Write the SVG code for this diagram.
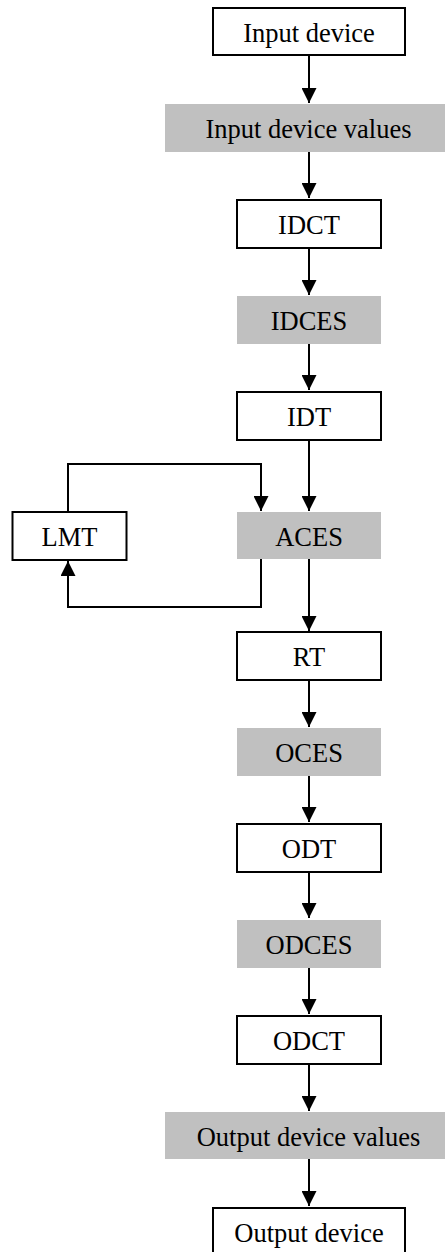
<svg xmlns="http://www.w3.org/2000/svg" width="445" height="1252" viewBox="0 0 445 1252">
<defs>
<marker id="ah" markerUnits="userSpaceOnUse" markerWidth="15" markerHeight="15" refX="15" refY="7.5" orient="auto"><path d="M0,0 L15,7.5 L0,15 z" fill="#000"/></marker>
<style>
.w{fill:#fff;stroke:#000;stroke-width:2}
.g{fill:#c0c0c0;stroke:none}
.t{font-family:"Liberation Serif","Times New Roman",serif;font-size:26.5px;fill:#000;text-anchor:middle}
.c{fill:none;stroke:#000;stroke-width:2;marker-end:url(#ah)}
</style>
</defs>
<rect width="445" height="1252" fill="#fff"/>
<g id="connectors">
<path class="c" d="M309,55 V103"/>
<path class="c" d="M309,152 V198"/>
<path class="c" d="M309,248 V295"/>
<path class="c" d="M309,344 V390"/>
<path class="c" d="M309,440 V511"/>
<path class="c" d="M68,511 V464 H261 V511"/>
<path class="c" d="M261,559 V607 H68 V561"/>
<path class="c" d="M309,559 V631"/>
<path class="c" d="M309,680 V727"/>
<path class="c" d="M309,776 V822"/>
<path class="c" d="M309,872 V918"/>
<path class="c" d="M309,968 V1014"/>
<path class="c" d="M309,1064 V1111"/>
<path class="c" d="M309,1159 V1206"/>
</g>
<g id="input-device"><rect class="w" x="213" y="8" width="192" height="47"/><text class="t" x="309" y="42">Input device</text></g>
<g id="input-device-values"><rect class="g" x="165" y="104" width="280" height="48"/><text class="t" x="308.5" y="138">Input device values</text></g>
<g id="idct"><rect class="w" x="237" y="200" width="144" height="48"/><text class="t" x="309" y="233.5">IDCT</text></g>
<g id="idces"><rect class="g" x="237" y="296" width="144" height="48"/><text class="t" x="309" y="330">IDCES</text></g>
<g id="idt"><rect class="w" x="237" y="392" width="144" height="48"/><text class="t" x="309" y="425.5">IDT</text></g>
<g id="aces"><rect class="g" x="237" y="512" width="144" height="47"/><text class="t" x="309" y="545.5">ACES</text></g>
<g id="lmt"><rect class="w" x="12.5" y="512" width="114" height="48"/><text class="t" x="69.5" y="545.5">LMT</text></g>
<g id="rt"><rect class="w" x="237" y="632" width="144" height="48"/><text class="t" x="309" y="665.5">RT</text></g>
<g id="oces"><rect class="g" x="237" y="728" width="144" height="48"/><text class="t" x="309" y="762">OCES</text></g>
<g id="odt"><rect class="w" x="237" y="824" width="144" height="48"/><text class="t" x="309" y="857.5">ODT</text></g>
<g id="odces"><rect class="g" x="237" y="920" width="144" height="48"/><text class="t" x="309" y="953.5">ODCES</text></g>
<g id="odct"><rect class="w" x="237" y="1016" width="144" height="48"/><text class="t" x="309" y="1049.5">ODCT</text></g>
<g id="output-device-values"><rect class="g" x="165" y="1112" width="280" height="47"/><text class="t" x="308.5" y="1145.5">Output device values</text></g>
<g id="output-device"><rect class="w" x="213" y="1208" width="192" height="48"/><text class="t" x="309" y="1242">Output device</text></g>
</svg>
